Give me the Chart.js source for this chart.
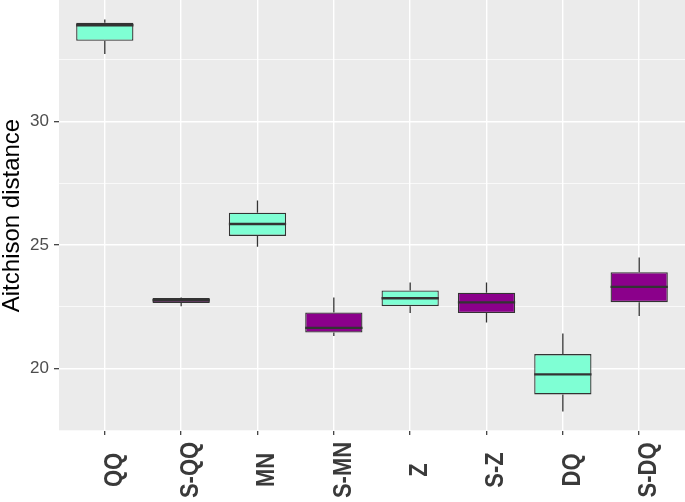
<!DOCTYPE html>
<html>
<head>
<meta charset="utf-8">
<script src="https://cdn.jsdelivr.net/npm/chart.js@4/dist/chart.umd.min.js"></script>
<style>
    html, body { margin: 0; padding: 0; background: #fff; }
    #wrap { width: 685px; height: 502px; }
</style>
</head>
<body>
<div id="wrap"><canvas id="chart"></canvas></div>
<script>
// Box statistics
const groups = ['QQ', 'S-QQ', 'MN', 'S-MN', 'Z', 'S-Z', 'DQ', 'S-DQ'];
const lowerWhisker = [32.73, 22.53, 24.93, 21.32, 22.25, 21.87, 18.27, 22.13];
const q1 = [33.26, 22.66, 25.37, 21.46, 22.53, 22.25, 18.96, 22.69];
const median = [33.89, 22.77, 25.85, 21.65, 22.85, 22.68, 19.77, 23.31];
const q3 = [33.99, 22.86, 26.31, 22.27, 23.16, 23.07, 20.59, 23.90];
const upperWhisker = [34.12, 22.88, 26.80, 22.88, 23.49, 23.49, 21.42, 24.50];
const fills = ['#7FFFD4', '#8B008B', '#7FFFD4', '#8B008B', '#7FFFD4', '#8B008B', '#7FFFD4', '#8B008B'];
const yTicks = [17.5, 20, 22.5, 25, 27.5, 30, 32.5];

const isMajor = v => v % 5 === 0;
const outline = '#333333';

// grey panel behind the plot
const panelBg = {
    id: 'panelBg',
    beforeDraw(chart) {
        const { ctx, chartArea: a } = chart;
        ctx.save();
        ctx.fillStyle = '#EBEBEB';
        ctx.fillRect(a.left, a.top, a.right - a.left, a.bottom - a.top);
        ctx.restore();
    }
};

// whiskers under the boxes, medians on top
const boxParts = {
    id: 'boxParts',
    beforeDatasetsDraw(chart) {
        const { ctx, scales: { y } } = chart;
        const bars = chart.getDatasetMeta(0).data;
        ctx.save();
        ctx.strokeStyle = outline;
        ctx.lineWidth = 1.3;
        bars.forEach((bar, i) => {
            ctx.beginPath();
            ctx.moveTo(bar.x, y.getPixelForValue(lowerWhisker[i]));
            ctx.lineTo(bar.x, y.getPixelForValue(q1[i]));
            ctx.moveTo(bar.x, y.getPixelForValue(q3[i]));
            ctx.lineTo(bar.x, y.getPixelForValue(upperWhisker[i]));
            ctx.stroke();
        });
        ctx.restore();
    },
    afterDatasetsDraw(chart) {
        const { ctx, scales: { y } } = chart;
        const bars = chart.getDatasetMeta(0).data;
        ctx.save();
        ctx.strokeStyle = outline;
        ctx.lineWidth = 2.4;
        bars.forEach((bar, i) => {
            const py = y.getPixelForValue(median[i]);
            ctx.beginPath();
            ctx.moveTo(bar.x - bar.width / 2, py);
            ctx.lineTo(bar.x + bar.width / 2, py);
            ctx.stroke();
        });
        ctx.restore();
    },
    afterDraw(chart) {
        // rotated category labels, centred like ggplot's (source image is a bit wide)
        const { ctx, scales: { x } } = chart;
        ctx.save();
        ctx.fillStyle = '#3A3A3A';
        ctx.font = 'bold 22px "Liberation Sans", Arial, sans-serif';
        ctx.textAlign = 'center';
        ctx.textBaseline = 'middle';
        groups.forEach((g, i) => {
            ctx.save();
            ctx.translate(x.getPixelForValue(i) + 10, 470);
            ctx.rotate(-Math.PI / 2);
            ctx.scale(1, 1.15);
            ctx.fillText(g, 0, 0);
            ctx.restore();
        });
        ctx.restore();
    }
};

new Chart(document.getElementById('chart'), {
    type: 'bar',
    data: {
        datasets: [{
            data: groups.map((g, i) => ({ x: i, y: [q1[i], q3[i]] })),
            backgroundColor: fills,
            borderColor: outline,
            borderWidth: 1.3,
            borderSkipped: false,
            barPercentage: 0.75,
            categoryPercentage: 1
        }]
    },
    options: {
        responsive: true,
        maintainAspectRatio: false,
        animation: false,
        events: [],
        layout: { padding: 0, autoPadding: false },
        plugins: { legend: { display: false }, tooltip: { enabled: false } },
        scales: {
            x: {
                type: 'linear',
                min: -0.6,
                max: 7.6,
                offset: false,
                afterBuildTicks: s => { s.ticks = groups.map((g, i) => ({ value: i })); },
                afterFit: s => { s.height = 71; s.paddingLeft = 0; s.paddingRight = 0; },
                ticks: { display: false },
                grid: { offset: false, color: '#FFFFFF', lineWidth: 1.4, tickColor: outline, tickWidth: 1.2, tickLength: 4 },
                border: { display: false }
            },
            y: {
                min: 17.48,
                max: 34.91,
                afterBuildTicks: s => { s.ticks = yTicks.map(v => ({ value: v })); },
                afterFit: s => { s.width = 59; s.paddingTop = 0; s.paddingBottom = 0; },
                ticks: {
                    autoSkip: false,
                    padding: 5,
                    color: '#4D4D4D',
                    font: { family: '"Liberation Sans", Arial, sans-serif', size: 17 },
                    callback: v => isMajor(v) ? v : ''
                },
                grid: {
                    color: '#FFFFFF',
                    lineWidth: c => (c.tick && isMajor(c.tick.value)) ? 1.4 : 0.7,
                    tickColor: c => (c.tick && isMajor(c.tick.value)) ? outline : 'rgba(0,0,0,0)',
                    tickWidth: 1.2,
                    tickLength: 5
                },
                border: { display: false },
                title: {
                    display: true,
                    text: 'Aitchison distance',
                    color: '#000000',
                    padding: 0,
                    font: { family: '"Liberation Sans", Arial, sans-serif', size: 24, lineHeight: 1 }
                }
            }
        }
    },
    plugins: [panelBg, boxParts]
});
</script>
</body>
</html>
